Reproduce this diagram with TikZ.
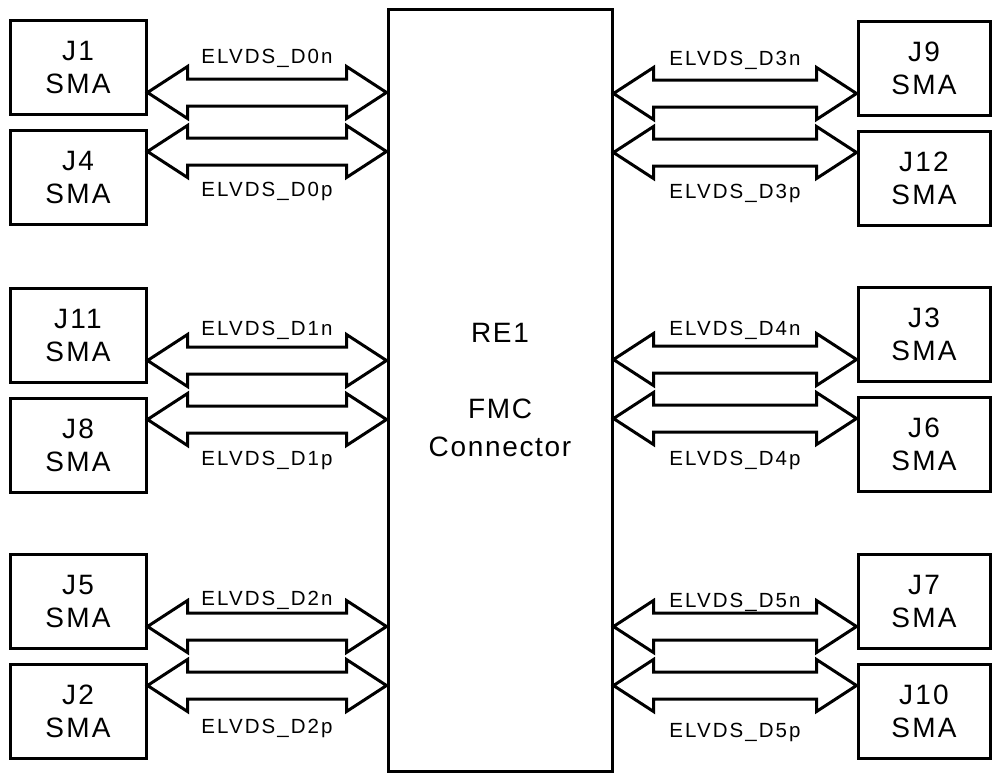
\documentclass[tikz,border=0pt]{standalone}
\usepackage{fontspec}
\setmainfont{Liberation Sans}
\usetikzlibrary{calc}

% outlined two-headed bus arrow: left tip, right tip, signal, label offset
\newcommand{\biarrow}[4]{%
  \draw[bus] let \p1=(#1), \p2=(#2) in
    (\x1,\y1) -- (\x1+40pt,\y1+26pt) -- (\x1+40pt,\y1+13.5pt)
    -- (\x2-40pt,\y1+13.5pt) -- (\x2-40pt,\y1+26pt) -- (\x2,\y1)
    -- (\x2-40pt,\y1-26pt) -- (\x2-40pt,\y1-13.5pt)
    -- (\x1+40pt,\y1-13.5pt) -- (\x1+40pt,\y1-26pt) -- cycle
    node[sig, anchor=base] (#3) at ({(\x1+\x2)/2},\y1#4) {ELVDS\_#3};
}

\begin{document}
\begin{tikzpicture}[
  x=1pt,
  y=-1pt,
  line join=miter,
  sma/.style={draw=black, line width=3, minimum height=94, inner sep=0, align=center,
    font=\fontsize{28}{33}\selectfont\addfontfeature{LetterSpace=8}},
  lsma/.style={sma, minimum width=136},
  rsma/.style={sma, minimum width=132},
  fmcbox/.style={draw=black, line width=3, minimum width=224, minimum height=762, inner sep=0,
    align=center, font=\fontsize{28}{38}\selectfont\addfontfeature{LetterSpace=6}},
  bus/.style={draw=black, line width=3},
  sig/.style={inner sep=0, font=\fontsize{20.5}{22}\selectfont\addfontfeature{LetterSpace=10}}
]
\path[use as bounding box] (0,0) rectangle (992,772);
\fill[white] (0,0) rectangle (992,772);

% FMC connector
\node[fmcbox] (fmc) at (500,390) {RE1\\[38pt]FMC\\Connector};

% SMA connectors, left side
\node[lsma] (j1)  at (78,67)  {J1\\SMA};
\node[lsma] (j4)  at (78,177) {J4\\SMA};
\node[lsma] (j11) at (78,335) {J11\\SMA};
\node[lsma] (j8)  at (78,445) {J8\\SMA};
\node[lsma] (j5)  at (78,601) {J5\\SMA};
\node[lsma] (j2)  at (78,711) {J2\\SMA};

% SMA connectors, right side
\node[rsma] (j9)  at (924,68)  {J9\\SMA};
\node[rsma] (j12) at (924,178) {J12\\SMA};
\node[rsma] (j3)  at (924,334) {J3\\SMA};
\node[rsma] (j6)  at (924,444) {J6\\SMA};
\node[rsma] (j7)  at (924,601) {J7\\SMA};
\node[rsma] (j10) at (924,711) {J10\\SMA};

% arrow tips on the SMA boxes
\coordinate (t0n) at ([yshift=-25.5pt]j1.east);
\coordinate (t0p) at ([yshift=25.5pt]j4.east);
\coordinate (t1n) at ([yshift=-25.5pt]j11.east);
\coordinate (t1p) at ([yshift=25.5pt]j8.east);
\coordinate (t2n) at ([yshift=-25.5pt]j5.east);
\coordinate (t2p) at ([yshift=25.5pt]j2.east);
\coordinate (t3n) at ([yshift=-25.5pt]j9.west);
\coordinate (t3p) at ([yshift=25.5pt]j12.west);
\coordinate (t4n) at ([yshift=-25.5pt]j3.west);
\coordinate (t4p) at ([yshift=25.5pt]j6.west);
\coordinate (t5n) at ([yshift=-25.5pt]j7.west);
\coordinate (t5p) at ([yshift=25.5pt]j10.west);

% LVDS pairs
\biarrow{t0n}{fmc.west}{D0n}{+29.5pt}
\biarrow{t0p}{fmc.west}{D0p}{-44.5pt}
\biarrow{t1n}{fmc.west}{D1n}{+25.5pt}
\biarrow{t1p}{fmc.west}{D1p}{-45.5pt}
\biarrow{t2n}{fmc.west}{D2n}{+21.5pt}
\biarrow{t2p}{fmc.west}{D2p}{-47.5pt}

\biarrow{fmc.east |- t3n}{t3n}{D3n}{+28.5pt}
\biarrow{fmc.east |- t3p}{t3p}{D3p}{-45.5pt}
\biarrow{fmc.east |- t4n}{t4n}{D4n}{+24.5pt}
\biarrow{fmc.east |- t4p}{t4p}{D4p}{-46.5pt}
\biarrow{fmc.east |- t5n}{t5n}{D5n}{+19.5pt}
\biarrow{fmc.east |- t5p}{t5p}{D5p}{-51.5pt}

\end{tikzpicture}
\end{document}
